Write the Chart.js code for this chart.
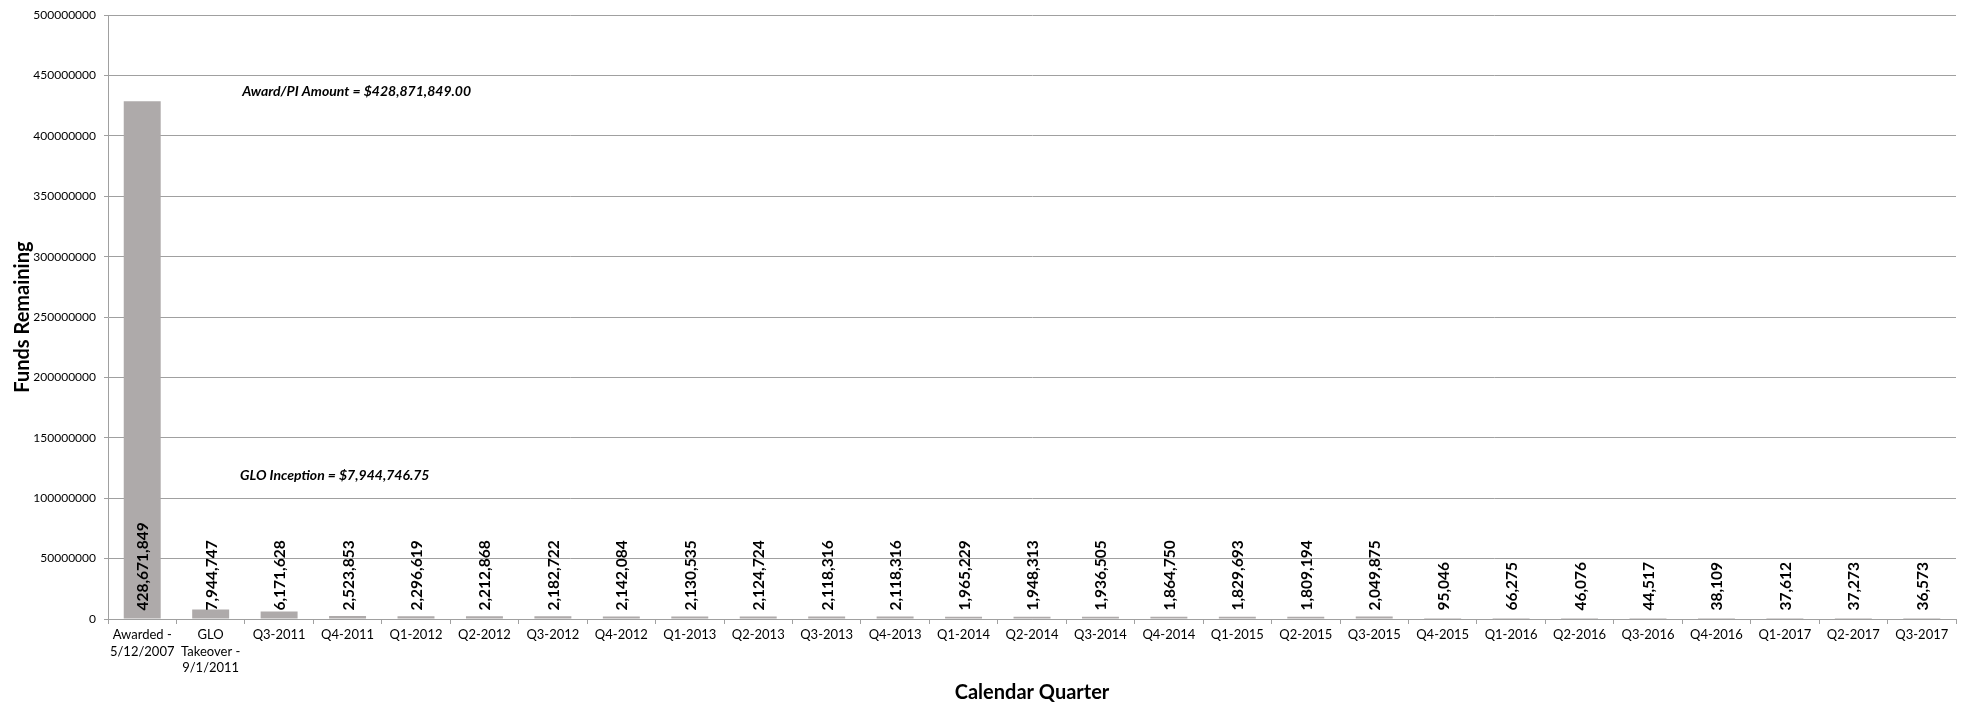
<!DOCTYPE html>
<html>
<head>
<meta charset="utf-8">
<script src="https://cdn.jsdelivr.net/npm/chart.js@4"></script>
<style>
  html, body { margin: 0; padding: 0; background: #fff; }
  #wrap { width: 1968px; height: 708px; }
</style>
</head>
<body>
<div id="wrap"><canvas id="fundsChart" width="1968" height="708"></canvas></div>
<script>
// quarters along the x axis (multi-line labels as arrays)
const quarters = [
  ['Awarded -', '5/12/2007'], ['GLO', 'Takeover -', '9/1/2011'],
  'Q3-2011', 'Q4-2011', 'Q1-2012', 'Q2-2012', 'Q3-2012', 'Q4-2012',
  'Q1-2013', 'Q2-2013', 'Q3-2013', 'Q4-2013', 'Q1-2014', 'Q2-2014',
  'Q3-2014', 'Q4-2014', 'Q1-2015', 'Q2-2015', 'Q3-2015', 'Q4-2015',
  'Q1-2016', 'Q2-2016', 'Q3-2016', 'Q4-2016', 'Q1-2017', 'Q2-2017', 'Q3-2017'
];

const fundsRemaining = [
  428671849, 7944747, 6171628, 2523853, 2296619, 2212868, 2182722, 2142084,
  2130535, 2124724, 2118316, 2118316, 1965229, 1948313, 1936505, 1864750,
  1829693, 1809194, 2049875, 95046, 66275, 46076, 44517, 38109, 37612, 37273, 36573
];

const yTicks = [0, 50000000, 100000000, 150000000, 200000000, 250000000,
  300000000, 350000000, 400000000, 450000000, 500000000];

// note text, the value it sits level with, and where along x it starts
const notes = [
  { text: 'Award/PI Amount = $428,871,849.00', value: 437000000, index: 1.46 },
  { text: 'GLO Inception = $7,944,746.75', value: 119000000, index: 1.43 }
];

const FONT = 'Lato, "Open Sans", sans-serif';

// rotated value labels sitting at the base of each bar
const barLabels = {
  id: 'barLabels',
  afterDatasetsDraw(chart) {
    const ctx = chart.ctx;
    const meta = chart.getDatasetMeta(0);
    ctx.save();
    ctx.fillStyle = '#000';
    ctx.font = 'bold 15.5px ' + FONT;
    ctx.textAlign = 'left';
    ctx.textBaseline = 'middle';
    meta.data.forEach((bar, i) => {
      const val = fundsRemaining[i];
      ctx.save();
      ctx.translate(bar.x, bar.base - 8);
      ctx.rotate(-Math.PI / 2);
      ctx.fillText(val.toLocaleString('en-US'), 0, 1);
      ctx.restore();
    });
    ctx.restore();
  }
};

// italic notes in the plot area
const noteText = {
  id: 'noteText',
  afterDraw(chart) {
    const ctx = chart.ctx;
    const x = chart.scales.x, y = chart.scales.y;
    ctx.save();
    ctx.fillStyle = '#000';
    ctx.font = 'italic bold 14px ' + FONT;
    ctx.textAlign = 'left';
    ctx.textBaseline = 'middle';
    notes.forEach(n => {
      ctx.fillText(n.text, x.getPixelForValue(n.index), y.getPixelForValue(n.value));
    });
    ctx.restore();
  }
};

new Chart(document.getElementById('fundsChart'), {
  type: 'bar',
  data: {
    labels: quarters,
    datasets: [{
      label: 'Funds Remaining',
      data: fundsRemaining,
      backgroundColor: '#aeaaaa',
      borderWidth: 0,
      categoryPercentage: 1,
      barPercentage: 0.54
    }]
  },
  options: {
    responsive: false,
    animation: false,
    devicePixelRatio: 1,
    layout: { padding: { top: 11, right: 12, left: 0, bottom: 0 } },
    plugins: {
      legend: { display: false },
      tooltip: { enabled: false }
    },
    scales: {
      x: {
        grid: {
          offset: true,
          drawOnChartArea: false,
          color: '#a0a0a0',
          tickLength: 5
        },
        border: { color: '#a0a0a0' },
        ticks: {
          color: '#000',
          font: { family: FONT, size: 13, lineHeight: 1.25 },
          maxRotation: 0,
          autoSkip: false,
          padding: 3
        },
        title: {
          display: true,
          text: 'Calendar Quarter',
          color: '#000',
          font: { family: FONT, size: 20, weight: 'bold' },
          padding: { top: 0, bottom: 3 }
        },
        afterFit(scale) { scale.height = 89; }
      },
      y: {
        min: 0,
        max: 500000000,
        afterBuildTicks(scale) { scale.ticks = yTicks.map(v => ({ value: v })); },
        grid: { color: '#a0a0a0', tickLength: 4 },
        border: { color: '#a0a0a0' },
        ticks: {
          color: '#000',
          font: { family: FONT, size: 12 },
          padding: 8,
          callback: v => String(v)
        },
        title: {
          display: true,
          text: 'Funds Remaining',
          color: '#000',
          font: { family: FONT, size: 20, weight: 'bold' },
          padding: { top: 11, bottom: 0 }
        },
        afterFit(scale) { scale.width = 108; }
      }
    }
  },
  plugins: [barLabels, noteText]
});
</script>
</body>
</html>
